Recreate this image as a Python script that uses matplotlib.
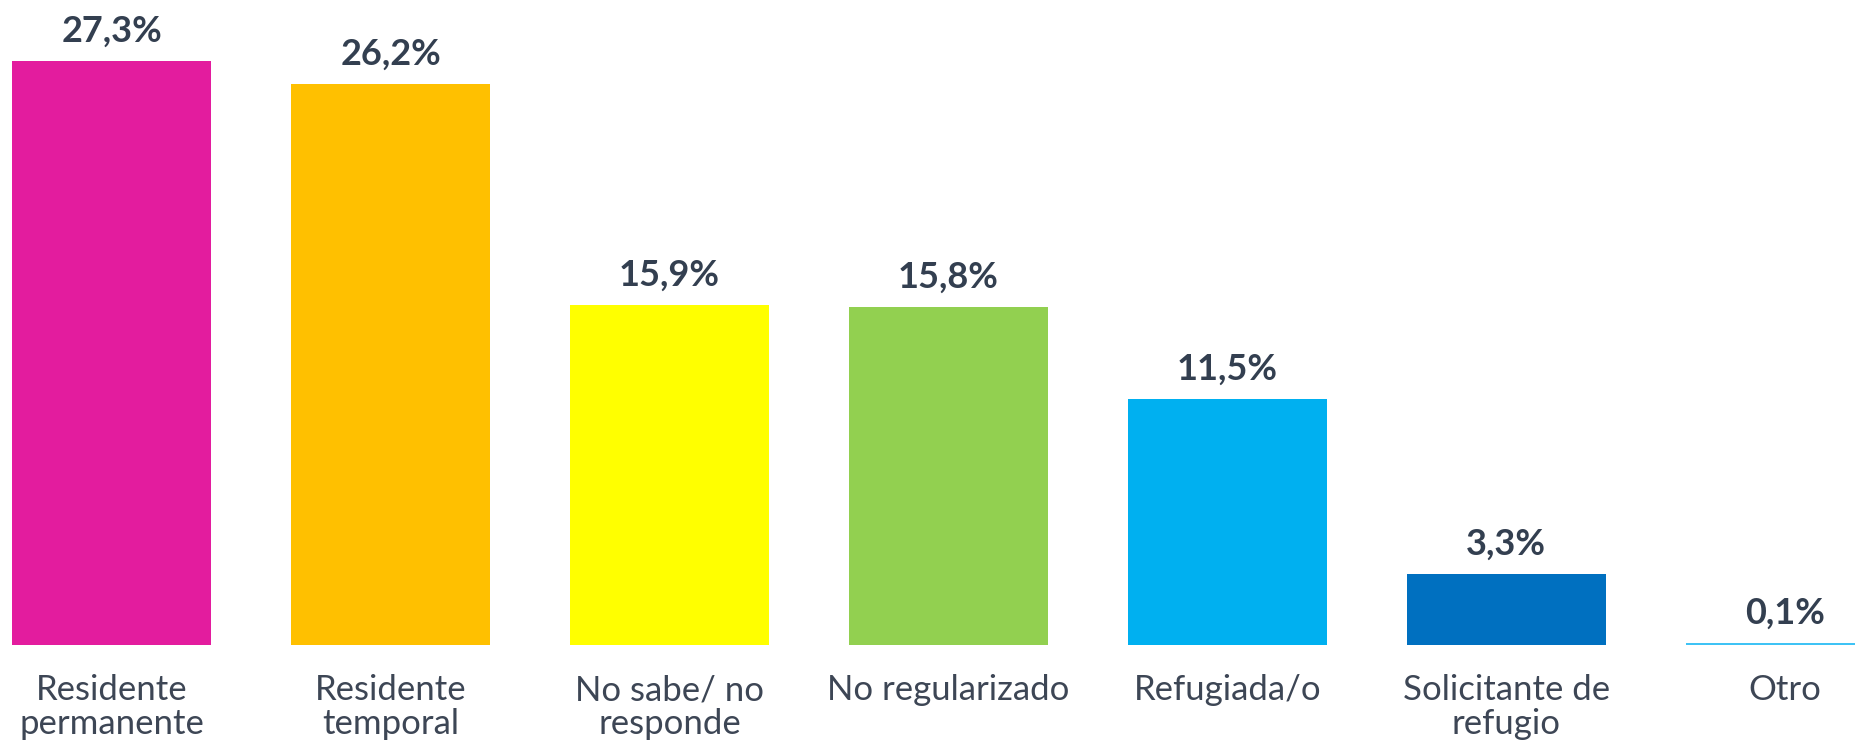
import matplotlib
matplotlib.use("Agg")
import matplotlib.pyplot as plt

categorias = ["Residente\npermanente", "Residente\ntemporal", "No sabe/ no\nresponde",
              "No regularizado", "Refugiada/o", "Solicitante de\nrefugio", "Otro"]
valores = [27.3, 26.2, 15.9, 15.8, 11.5, 3.3, 0.1]
etiquetas = ["27,3%", "26,2%", "15,9%", "15,8%", "11,5%", "3,3%", "0,1%"]
colores = ["#E31C9E", "#FFC000", "#FFFF00", "#92D050", "#00B0F0", "#0070C0", "#3FC3F5"]

plt.rcParams['font.family'] = ['Lato', 'DejaVu Sans']

fig = plt.figure(figsize=(18.55, 7.42), dpi=100)
ax = fig.add_axes([0, 97 / 742, 1, 645 / 742])

x = list(range(len(valores)))
bars = ax.bar(x, valores, width=0.713, color=colores)

for xi, v, lab in zip(x, valores, etiquetas):
    ax.annotate(lab, (xi, v), xytext=(0, 14), textcoords="offset points",
                ha="center", va="baseline", fontsize=26, fontweight="bold",
                color="#333F50")

ax.set_xlim(-0.4, 6.25)
ax.set_ylim(0, 30.14)
ax.set_xticks(x)
ax.set_xticklabels(categorias, fontsize=25, color="#3D4655", linespacing=1.08)
ax.tick_params(axis="x", length=0, pad=21)
ax.set_yticks([])
for s in ax.spines.values():
    s.set_visible(False)

fig.savefig("out.png", dpi=100)
